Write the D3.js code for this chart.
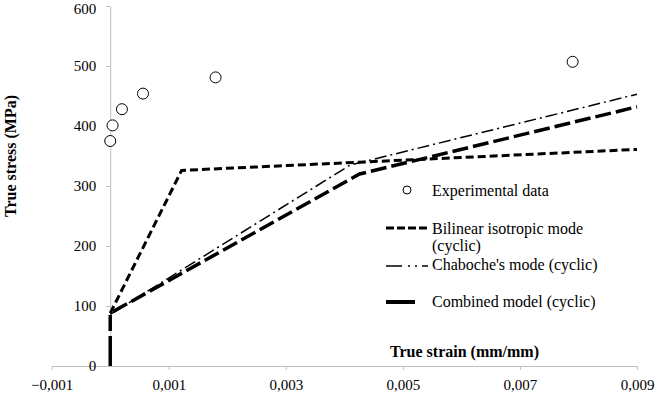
<!DOCTYPE html>
<html>
<head>
<meta charset="utf-8">
<script src="https://cdn.jsdelivr.net/npm/d3@7"></script>
<style>
body { margin: 0; background: #fff; }
svg text { font-family: "Liberation Serif", Tinos, "Times New Roman", Times, "DejaVu Serif", serif !important; }
</style>
</head>
<body>
<div id="chart"></div>
<script>
// data
var expStrain = [0.0000, 0.00004, 0.0002, 0.00056, 0.0018, 0.0079];
var expStress = [375, 401, 428, 454, 481, 507];

var bilinearStrain = [0, 0.00122, 0.009];
var bilinearStress = [88, 326, 361];

var chabocheStrain = [0, 0.0041, 0.009];
var chabocheStress = [86, 335, 453];

var combinedStrain = [0, 0, 0.00426, 0.009];
var combinedStress = [0, 88, 320, 432];

var xTicks = [-0.001, 0.001, 0.003, 0.005, 0.007, 0.009];
var yTicks = [0, 100, 200, 300, 400, 500, 600];

var width = 661, height = 397;

var svg = d3.select("#chart").append("svg")
	.attr("width", width)
	.attr("height", height);

var x = d3.scaleLinear().domain([-0.001, 0.009]).range([51.7, 637]);
var y = d3.scaleLinear().domain([0, 600]).range([366, 6]);

function pts(xs, ys) {
	return xs.map(function(d, i) { return [d, ys[i]]; });
}

// x axis along y = 0
var xAxis = svg.append("g")
	.attr("transform", "translate(0," + y(0) + ")")
	.call(d3.axisBottom(x).tickValues(xTicks).tickSize(4).tickSizeOuter(0)
		.tickFormat(function(d) { return d3.format(".3f")(d).replace(".", ","); }));
xAxis.attr("font-family", null);
xAxis.select(".domain").attr("stroke", "#bfbfbf");
xAxis.selectAll(".tick line").attr("stroke", "#bfbfbf");
xAxis.selectAll(".tick text").attr("font-size", 15).attr("fill", "#000")
	.attr("y", 24).attr("dy", null);

// y axis along x = 0
var yAxis = svg.append("g")
	.attr("transform", "translate(" + x(0) + ",0)")
	.call(d3.axisLeft(y).tickValues(yTicks).tickSize(4).tickSizeOuter(0));
yAxis.attr("font-family", null);
yAxis.select(".domain").attr("stroke", "#bfbfbf");
yAxis.selectAll(".tick line").attr("stroke", "#bfbfbf");
yAxis.selectAll(".tick text").attr("font-size", 15).attr("fill", "#000").attr("x", -14);
// top label sits against the edge, push it down a touch
yAxis.selectAll(".tick text").filter(function(d) { return d === 600; }).attr("dy", "0.5em");

var line = d3.line()
	.x(function(d) { return x(d[0]); })
	.y(function(d) { return y(d[1]); });

svg.append("path")
	.datum(pts(chabocheStrain, chabocheStress))
	.attr("d", line)
	.attr("fill", "none")
	.attr("stroke", "#000")
	.attr("stroke-width", 1.5)
	.attr("stroke-dasharray", "12,4,2,4");

// combined: solid foot on the strain axis, then long dashes
var longDash = ["30", "5"];
for (var k = 0; k < 40; k++) { longDash.push("16", "5"); }
svg.append("path")
	.datum(pts(combinedStrain, combinedStress))
	.attr("d", line)
	.attr("fill", "none")
	.attr("stroke", "#000")
	.attr("stroke-width", 3.5)
	.attr("stroke-dasharray", longDash.join(","));

svg.append("path")
	.datum(pts(bilinearStrain, bilinearStress))
	.attr("d", line)
	.attr("fill", "none")
	.attr("stroke", "#000")
	.attr("stroke-width", 3)
	.attr("stroke-dasharray", "8,4");

svg.selectAll(".exp")
	.data(pts(expStrain, expStress))
	.enter().append("circle")
	.attr("class", "exp")
	.attr("cx", function(d) { return x(d[0]); })
	.attr("cy", function(d) { return y(d[1]); })
	.attr("r", 5.5)
	.attr("fill", "#fff")
	.attr("stroke", "#000")
	.attr("stroke-width", 1);

// axis titles
svg.append("text")
	.attr("x", 390).attr("y", 357)
	.attr("font-size", 16).attr("font-weight", "bold")
	.text("True strain (mm/mm)");

svg.append("text")
	.attr("transform", "translate(16,156) rotate(-90)")
	.attr("text-anchor", "middle")
	.attr("font-size", 16).attr("font-weight", "bold")
	.text("True stress (MPa)");

// legend
var lg = svg.append("g");
lg.append("circle").attr("cx", 407).attr("cy", 190).attr("r", 4)
	.attr("fill", "#fff").attr("stroke", "#000");
lg.append("text").attr("x", 432).attr("y", 196).attr("font-size", 16).text("Experimental data");

lg.append("line").attr("x1", 386).attr("x2", 428).attr("y1", 228).attr("y2", 228)
	.attr("stroke", "#000").attr("stroke-width", 3).attr("stroke-dasharray", "8,3");
lg.append("text").attr("x", 432).attr("y", 234).attr("font-size", 16).text("Bilinear isotropic mode");
lg.append("text").attr("x", 432).attr("y", 251).attr("font-size", 16).text("(cyclic)");

lg.append("line").attr("x1", 386).attr("x2", 428).attr("y1", 266).attr("y2", 266)
	.attr("stroke", "#000").attr("stroke-width", 1.5).attr("stroke-dasharray", "16,6,2,5,2,5");
lg.append("text").attr("x", 432).attr("y", 270).attr("font-size", 16).text("Chaboche's mode (cyclic)");

lg.append("line").attr("x1", 386).attr("x2", 415).attr("y1", 302).attr("y2", 302)
	.attr("stroke", "#000").attr("stroke-width", 4);
lg.append("text").attr("x", 432).attr("y", 307).attr("font-size", 16).text("Combined model (cyclic)");
</script>
</body>
</html>
